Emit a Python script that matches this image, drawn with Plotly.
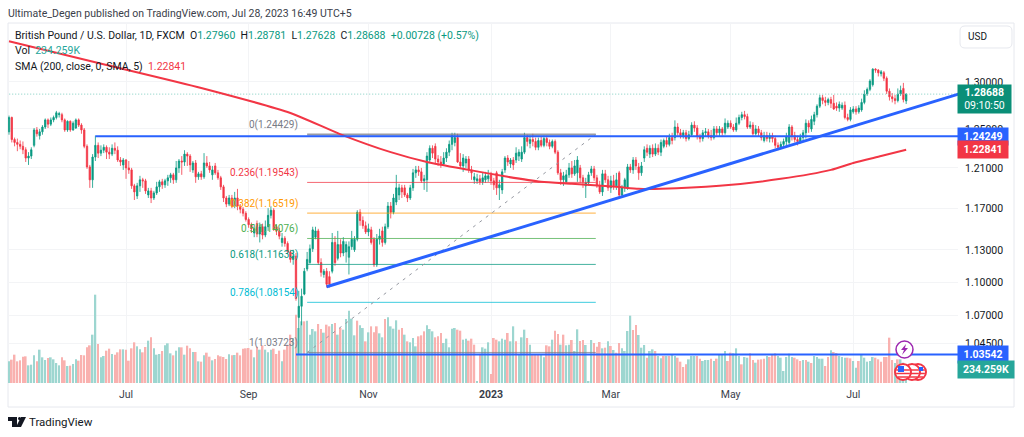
import math
import plotly.graph_objects as go

# daily GBP/USD bars
opens = [
    1.247,1.262,1.239,1.236,1.234,1.232,1.2285,1.220,1.222,1.233,
    1.249,1.243,1.247,1.252,1.2595,1.255,1.2595,1.262,1.265,1.265,
    1.2595,1.249,1.258,1.249,1.251,1.2595,1.254,1.249,1.232,1.211,
    1.198,1.221,1.233,1.225,1.228,1.231,1.226,1.224,1.230,1.228,
    1.218,1.213,1.218,1.210,1.208,1.192,1.182,1.192,1.198,1.197,
    1.183,1.187,1.180,1.185,1.191,1.196,1.193,1.197,1.200,1.203,
    1.198,1.210,1.217,1.216,1.224,1.222,1.208,1.215,1.201,1.204,
    1.201,1.215,1.212,1.203,1.212,1.205,1.200,1.191,1.180,1.174,
    1.180,1.172,1.180,1.171,1.169,1.165,1.159,1.154,1.146,1.155,
    1.145,1.152,1.144,1.152,1.163,1.168,1.152,1.148,1.137,1.141,
    1.136,1.128,1.121,1.124,1.068,1.078,1.089,1.112,1.118,1.131,
    1.142,1.148,1.118,1.107,1.110,1.105,1.110,1.137,1.122,1.135,
    1.127,1.128,1.123,1.133,1.130,1.140,1.166,1.158,1.153,1.147,
    1.149,1.140,1.116,1.140,1.148,1.137,1.152,1.172,1.166,1.176,
    1.183,1.190,1.190,1.183,1.180,1.190,1.205,1.208,1.206,1.197,
    1.198,1.218,1.230,1.232,1.219,1.216,1.214,1.220,1.226,1.234,
    1.236,1.241,1.216,1.212,1.215,1.219,1.208,1.198,1.197,1.199,
    1.196,1.198,1.199,1.203,1.197,1.205,1.190,1.188,1.208,1.220,
    1.214,1.218,1.218,1.222,1.219,1.226,1.241,1.235,1.239,1.237,
    1.231,1.238,1.233,1.240,1.236,1.232,1.237,1.226,1.205,1.198,
    1.196,1.203,1.210,1.204,1.205,1.210,1.200,1.192,1.195,1.205,
    1.209,1.200,1.192,1.186,1.204,1.198,1.190,1.197,1.192,1.205,
    1.183,1.190,1.190,1.211,1.208,1.218,1.211,1.205,1.220,1.230,
    1.224,1.230,1.224,1.230,1.226,1.232,1.238,1.234,1.241,1.241,
    1.252,1.246,1.243,1.246,1.240,1.244,1.254,1.251,1.242,1.240,
    1.246,1.247,1.243,1.241,1.250,1.246,1.250,1.246,1.252,1.256,
    1.252,1.249,1.256,1.262,1.265,1.263,1.252,1.254,1.245,1.250,
    1.246,1.238,1.243,1.240,1.243,1.240,1.233,1.231,1.234,1.237,
    1.236,1.252,1.243,1.239,1.237,1.241,1.246,1.256,1.250,1.258,
    1.265,1.274,1.283,1.280,1.278,1.281,1.277,1.274,1.272,1.272,
    1.275,1.262,1.260,1.268,1.271,1.268,1.270,1.278,1.287,1.292,
    1.297,1.314,1.313,1.309,1.310,1.304,1.290,1.284,1.282,1.280,
    1.287,1.293,1.2796,
]
highs = [
    1.264,1.263,1.241,1.240,1.238,1.237,1.231,1.226,1.231,1.251,
    1.252,1.250,1.254,1.261,1.261,1.262,1.264,1.269,1.268,1.267,
    1.261,1.259,1.259,1.258,1.261,1.261,1.256,1.251,1.234,1.213,
    1.224,1.243,1.236,1.233,1.234,1.233,1.231,1.234,1.236,1.232,
    1.221,1.220,1.219,1.217,1.210,1.194,1.195,1.202,1.200,1.199,
    1.190,1.190,1.187,1.196,1.198,1.199,1.199,1.203,1.205,1.205,
    1.217,1.219,1.222,1.228,1.226,1.224,1.217,1.218,1.206,1.207,
    1.225,1.222,1.216,1.212,1.215,1.208,1.202,1.193,1.182,1.183,
    1.183,1.186,1.189,1.174,1.171,1.167,1.161,1.156,1.154,1.158,
    1.156,1.155,1.158,1.170,1.172,1.170,1.154,1.151,1.146,1.143,
    1.138,1.130,1.130,1.127,1.092,1.094,1.113,1.128,1.135,1.152,
    1.152,1.150,1.122,1.112,1.113,1.110,1.146,1.143,1.148,1.140,
    1.142,1.138,1.138,1.148,1.143,1.168,1.169,1.162,1.157,1.155,
    1.152,1.142,1.145,1.150,1.152,1.155,1.176,1.176,1.184,1.203,
    1.194,1.193,1.193,1.185,1.193,1.209,1.212,1.212,1.210,1.203,
    1.226,1.233,1.233,1.235,1.223,1.222,1.226,1.230,1.238,1.246,
    1.246,1.245,1.225,1.224,1.222,1.222,1.212,1.205,1.204,1.203,
    1.205,1.206,1.208,1.206,1.200,1.207,1.198,1.209,1.222,1.223,
    1.220,1.221,1.231,1.229,1.232,1.246,1.244,1.243,1.245,1.241,
    1.241,1.242,1.243,1.243,1.239,1.239,1.239,1.228,1.209,1.206,
    1.208,1.215,1.217,1.218,1.222,1.213,1.203,1.200,1.206,1.212,
    1.212,1.203,1.197,1.208,1.208,1.202,1.202,1.203,1.205,1.207,
    1.193,1.200,1.214,1.214,1.221,1.221,1.215,1.216,1.232,1.234,
    1.233,1.234,1.235,1.234,1.239,1.240,1.242,1.245,1.246,1.259,
    1.256,1.250,1.249,1.249,1.248,1.257,1.258,1.254,1.245,1.249,
    1.251,1.250,1.249,1.253,1.253,1.253,1.252,1.261,1.259,1.259,
    1.255,1.262,1.265,1.268,1.269,1.266,1.258,1.257,1.254,1.253,
    1.249,1.247,1.247,1.246,1.246,1.243,1.236,1.237,1.240,1.246,
    1.255,1.254,1.247,1.243,1.245,1.249,1.260,1.259,1.264,1.268,
    1.276,1.286,1.286,1.284,1.283,1.284,1.286,1.278,1.279,1.278,
    1.279,1.266,1.273,1.274,1.274,1.275,1.282,1.291,1.294,1.303,
    1.315,1.315,1.314,1.313,1.312,1.306,1.293,1.288,1.286,1.293,
    1.296,1.299,1.28781,
]
lows = [
    1.244,1.236,1.232,1.227,1.229,1.224,1.216,1.213,1.219,1.231,
    1.242,1.239,1.244,1.250,1.251,1.253,1.257,1.260,1.262,1.257,
    1.247,1.247,1.247,1.248,1.250,1.252,1.245,1.230,1.209,1.190,
    1.190,1.217,1.220,1.222,1.225,1.219,1.219,1.222,1.224,1.216,
    1.212,1.208,1.199,1.204,1.189,1.178,1.179,1.186,1.190,1.184,
    1.180,1.175,1.178,1.183,1.186,1.189,1.190,1.192,1.195,1.194,
    1.195,1.205,1.203,1.212,1.212,1.206,1.205,1.195,1.198,1.198,
    1.199,1.210,1.205,1.198,1.203,1.198,1.188,1.176,1.171,1.172,
    1.170,1.170,1.168,1.165,1.162,1.157,1.151,1.146,1.142,1.142,
    1.137,1.140,1.142,1.148,1.160,1.148,1.144,1.140,1.133,1.133,
    1.126,1.118,1.116,1.083,1.036,1.061,1.088,1.110,1.117,1.128,
    1.140,1.116,1.105,1.104,1.095,1.095,1.108,1.115,1.120,1.123,
    1.124,1.118,1.107,1.130,1.128,1.138,1.153,1.150,1.145,1.143,
    1.135,1.114,1.114,1.135,1.133,1.135,1.150,1.160,1.164,1.173,
    1.178,1.180,1.181,1.176,1.178,1.187,1.200,1.202,1.195,1.188,
    1.186,1.215,1.220,1.214,1.212,1.210,1.212,1.216,1.222,1.228,
    1.232,1.215,1.210,1.206,1.210,1.205,1.198,1.194,1.194,1.193,
    1.193,1.195,1.196,1.193,1.188,1.183,1.178,1.184,1.205,1.212,
    1.210,1.208,1.215,1.217,1.216,1.224,1.232,1.230,1.232,1.228,
    1.228,1.231,1.231,1.232,1.229,1.230,1.224,1.203,1.193,1.192,
    1.194,1.200,1.200,1.202,1.196,1.195,1.190,1.180,1.192,1.202,
    1.197,1.190,1.184,1.182,1.195,1.187,1.185,1.188,1.188,1.181,
    1.180,1.186,1.188,1.205,1.204,1.208,1.198,1.202,1.216,1.222,
    1.220,1.221,1.222,1.223,1.222,1.230,1.231,1.232,1.234,1.238,
    1.243,1.240,1.240,1.237,1.238,1.242,1.247,1.239,1.236,1.237,
    1.242,1.240,1.238,1.239,1.243,1.242,1.243,1.244,1.250,1.250,
    1.247,1.247,1.254,1.259,1.260,1.250,1.250,1.243,1.243,1.242,
    1.238,1.236,1.237,1.236,1.236,1.230,1.228,1.229,1.232,1.233,
    1.234,1.238,1.236,1.233,1.235,1.238,1.240,1.246,1.247,1.254,
    1.262,1.272,1.276,1.274,1.275,1.272,1.270,1.269,1.268,1.270,
    1.260,1.258,1.258,1.266,1.265,1.266,1.268,1.276,1.285,1.290,
    1.295,1.310,1.306,1.306,1.301,1.287,1.280,1.278,1.276,1.278,
    1.285,1.278,1.27628,
]
closes = [
    1.262,1.239,1.236,1.234,1.232,1.2285,1.220,1.222,1.2285,1.249,
    1.245,1.247,1.252,1.2595,1.255,1.2595,1.262,1.267,1.266,1.2595,
    1.249,1.258,1.249,1.256,1.2595,1.254,1.249,1.232,1.211,1.198,
    1.221,1.233,1.225,1.228,1.231,1.226,1.224,1.230,1.228,1.218,
    1.216,1.218,1.210,1.208,1.192,1.186,1.192,1.198,1.197,1.187,
    1.187,1.180,1.185,1.191,1.196,1.193,1.197,1.200,1.203,1.198,
    1.210,1.217,1.216,1.224,1.222,1.213,1.215,1.201,1.204,1.201,
    1.215,1.212,1.208,1.208,1.205,1.200,1.191,1.180,1.174,1.180,
    1.172,1.180,1.172,1.169,1.165,1.159,1.154,1.150,1.150,1.145,
    1.152,1.144,1.152,1.163,1.168,1.150,1.148,1.143,1.141,1.136,
    1.128,1.121,1.124,1.085,1.078,1.087,1.110,1.121,1.131,1.149,
    1.148,1.118,1.109,1.110,1.098,1.098,1.137,1.118,1.135,1.127,
    1.138,1.135,1.133,1.140,1.140,1.166,1.158,1.153,1.147,1.150,
    1.137,1.116,1.140,1.143,1.137,1.152,1.172,1.166,1.180,1.190,
    1.190,1.186,1.183,1.180,1.190,1.205,1.208,1.206,1.197,1.199,
    1.222,1.230,1.225,1.219,1.216,1.214,1.220,1.226,1.234,1.243,
    1.241,1.216,1.212,1.220,1.219,1.208,1.205,1.201,1.199,1.196,
    1.200,1.202,1.202,1.197,1.193,1.190,1.193,1.206,1.220,1.216,
    1.218,1.213,1.225,1.226,1.226,1.241,1.237,1.239,1.237,1.231,
    1.238,1.233,1.240,1.236,1.232,1.237,1.226,1.205,1.198,1.202,
    1.203,1.210,1.204,1.212,1.218,1.200,1.196,1.195,1.203,1.209,
    1.200,1.192,1.186,1.204,1.198,1.190,1.197,1.192,1.198,1.183,
    1.190,1.198,1.211,1.208,1.218,1.212,1.205,1.212,1.2285,1.226,
    1.230,1.224,1.230,1.226,1.236,1.238,1.234,1.241,1.238,1.252,
    1.246,1.243,1.246,1.240,1.244,1.254,1.251,1.242,1.240,1.246,
    1.247,1.243,1.241,1.250,1.246,1.250,1.246,1.256,1.256,1.252,
    1.249,1.256,1.262,1.265,1.263,1.252,1.254,1.245,1.250,1.246,
    1.241,1.243,1.240,1.243,1.240,1.233,1.231,1.234,1.237,1.242,
    1.252,1.243,1.239,1.237,1.241,1.246,1.256,1.252,1.260,1.265,
    1.274,1.283,1.280,1.278,1.281,1.277,1.271,1.272,1.276,1.275,
    1.262,1.260,1.270,1.271,1.268,1.272,1.278,1.287,1.292,1.301,
    1.314,1.313,1.310,1.311,1.304,1.290,1.284,1.282,1.280,1.287,
    1.291,1.281,1.28688,
]
# volume in thousands, negative = red bar
volume = [
    455,-490,-595,-455,-476,-553,-560,371,385,581,
    -455,700,539,483,-525,539,497,420,371,-539,
    -476,357,-364,399,497,-469,-588,-581,-749,-791,
    1015,1855,-819,539,567,-679,-721,609,-595,-644,
    -707,707,-700,-469,-728,-854,770,707,-644,-756,
    889,-959,728,595,609,-672,791,833,623,-581,
    679,749,-749,595,-784,-728,651,-651,455,-448,
    581,-637,-553,476,-504,-581,-560,-546,-504,602,
    -581,588,-637,-581,-721,-728,-735,-700,539,-763,
    700,-791,700,644,700,-721,-609,-679,455,-700,
    -805,-1015,945,-1435,1155,
    1295,-1295,1309,1015,1134,1085,-1239,-1134,1057,-1225,
    -1190,1239,-1260,1015,-1155,1120,1344,1519,1351,1001,
    -1309,1211,1155,-875,1064,-1190,-1064,-1190,1043,959,
    -1344,1379,1190,1141,1316,-1120,-1155,1015,-875,854,
    945,770,-980,-1001,-1085,1211,1134,1085,-959,-980,
    -1050,840,931,749,1141,1155,-1120,-1099,910,931,
    -889,-931,-805,35,-616,749,721,854,-189,-945,
    -910,875,931,910,-1050,875,1190,-875,609,959,
    1120,-945,805,-609,-609,-609,609,539,-791,-770,
    910,-1099,-1029,805,-1015,791,805,
    -903,672,1127,-882,-903,798,35,903,-840,-763,
    -861,728,-742,875,-777,693,-637,-840,728,672,
    1092,1414,-1113,-1218,1008,742,798,-532,672,707,
    -672,567,518,-567,567,-567,602,567,-532,-448,
    -336,-392,497,567,567,-567,-511,462,483,483,
    -511,462,-511,602,602,672,-462,-637,623,728,
    567,
    -392,546,532,-623,-483,427,-490,-497,-511,567,
    -546,-602,-623,567,532,252,546,616,546,-532,
    -497,-462,483,-483,448,-420,567,546,511,511,
    -357,-546,686,-651,-630,567,546,532,-532,-518,
    462,322,-462,602,532,448,462,546,-532,-497,
    -448,-546,-546,-952,-483,420,-497,497,427,234,
]
bars = list(range(len(closes)))

sma_bars = [0, 35, 69, 101, 119, 137, 150, 165, 179, 191, 202, 218, 226, 234, 255, 277, 295, 303, 313, 322]
sma_vals = [1.345, 1.3186, 1.2935, 1.2668, 1.2444, 1.226, 1.216, 1.208, 1.201, 1.196,
            1.194, 1.191, 1.189, 1.189, 1.192, 1.199, 1.208, 1.215, 1.222, 1.22841]

time_ticks = [42, 86, 129, 173, 216, 259, 303]
time_labels = ["Jul", "Sep", "Nov", "<b>2023</b>", "Mar", "May", "Jul"]
price_ticks = [1.30, 1.25, 1.21, 1.17, 1.13, 1.10, 1.07, 1.045]

fib_levels = ["0", "0.236", "0.382", "0.5", "0.618", "0.786", "1"]
fib_prices = [1.24429, 1.19543, 1.16519, 1.14076, 1.11633, 1.08154, 1.03723]
fib_colors = ["#787b86", "#f23645", "#ff9800", "#4caf50", "#089981", "#00bcd4", "#787b86"]
fib_start, fib_end = 107, 210.6

res_bars = [31, 341]
res_price = 1.24249
sup_bars = [103, 341]
sup_price = 1.03542
trend_bars = [114, 341]
trend_vals = [1.0957, 1.2871]
last_price = 1.28688
sma_last = 1.22841
vol_last = 234.259

FONT = "Roboto, sans-serif"
W, H = 1024, 437
L, R, T, B = 8, 958, 23, 383


def px(x):
    return (x - L) / (R - L)


def py(y):
    return (B - y) / (B - T)


def rect_path(points):
    return "M" + " L".join(f"{px(a):.5f},{py(b):.5f}" for a, b in points) + " Z"


fig = go.Figure()

fig.add_trace(go.Bar(
    x=bars, y=[abs(v) for v in volume], width=0.62, yaxis="y",
    marker=dict(color=["#9dd6d0" if v > 0 else "#f9b1af" for v in volume], line_width=0),
))

for lvl, p, c in zip(fib_levels, fib_prices, fib_colors):
    fig.add_trace(go.Scatter(x=[fib_start, fib_end], y=[p, p], yaxis="y2", mode="lines",
                             line=dict(color=c, width=2 if lvl == "0" else 1), opacity=0.75))
fig.add_trace(go.Scatter(x=[fib_start, fib_end], y=[fib_prices[-1], fib_prices[0]], yaxis="y2", mode="lines",
                         line=dict(color="#9598a1", width=1, dash="3px,5px")))
fig.add_trace(go.Scatter(x=[-1, 341], y=[last_price, last_price], yaxis="y2", mode="lines",
                         line=dict(color="#7fcdbf", width=1, dash="1px,2px")))

fig.add_trace(go.Candlestick(
    x=bars, open=opens, high=highs, low=lows, close=closes, yaxis="y2", whiskerwidth=0,
    increasing=dict(line=dict(color="#089981", width=0.8), fillcolor="#089981"),
    decreasing=dict(line=dict(color="#f23645", width=0.8), fillcolor="#f23645"),
))
fig.add_trace(go.Scatter(x=sma_bars, y=sma_vals, yaxis="y2", mode="lines",
                         line=dict(color="#f23645", width=2, shape="spline", smoothing=0.6)))

fig.add_trace(go.Scatter(x=res_bars, y=[res_price, res_price], yaxis="y2", mode="lines",
                         line=dict(color="#2962ff", width=2)))
fig.add_trace(go.Scatter(x=sup_bars, y=[sup_price, sup_price], yaxis="y2", mode="lines",
                         line=dict(color="#2962ff", width=2)))
fig.add_trace(go.Scatter(x=trend_bars, y=trend_vals, yaxis="y2", mode="lines",
                         line=dict(color="#2962ff", width=3)))

notes = []


def text(x, y, s, size=10.5, color="#131722", anchor="left", **kw):
    notes.append(dict(xref="paper", yref="paper", x=px(x), y=py(y), text=s, showarrow=False,
                      xanchor=anchor, yanchor="middle", font=dict(family=FONT, size=size, color=color), **kw))


def val(s, c="#089981"):
    return f'<span style="color:{c}">{s}</span>'


text(6, 13, "Ultimate_Degen published on TradingView.com, Jul 28, 2023 16:49 UTC+5", color="#3a3e4a")
text(13, 36, "British Pound / U.S. Dollar, 1D, FXCM  O" + val("1.27960") + "  H" + val("1.28781")
     + "  L" + val("1.27628") + "  C" + val("1.28688") + "  " + val("+0.00728 (+0.57%)"))
text(13, 51, "Vol  " + val("234.259K", "#26a69a"))
text(13, 66, "SMA (200, close, 0, SMA, 5)  " + val("1.22841", "#f23645"))
text(27, 422, "TradingView", size=11.5, color="#131722")
text(977, 37, "USD", size=10, anchor="center")

# fib labels sit left of the levels, just above each price
for lvl, p, c in zip(fib_levels, fib_prices, fib_colors):
    notes.append(dict(xref="x", yref="y2", x=104.6, y=math.log10(p), yshift=9, text=f"{lvl}({p:.5f})", showarrow=False,
                      xanchor="right", yanchor="middle", font=dict(family=FONT, size=10, color=c)))


def tag(price, s, bg, w=48, h=15, shift=0, yref="y2", size=10.5):
    notes.append(dict(xref="paper", yref=yref, x=px(957), y=math.log10(price) if yref == "y2" else price,
                      yshift=shift, text=s, showarrow=False, xanchor="left", yanchor="middle", width=w, height=h,
                      align="center", bgcolor=bg, font=dict(family=FONT, size=size, color="white")))


tag(last_price, f"<b>{last_price:.5f}</b><br>09:10:50", "#0a8f78", w=51, h=26, shift=-5)
tag(res_price, f"<b>{res_price:.5f}</b>", "#2962ff")
tag(sma_last, f"<b>{sma_last:.5f}</b>", "#f23645")
tag(sup_price, f"<b>{sup_price:.5f}</b>", "#2962ff")
tag(vol_last, f"<b>{vol_last}K</b>", "#26a69a", w=54, yref="y", shift=2)


def round_box(x0, y0, x1, y1, r):
    a, b, c, d = px(x0), py(y0), px(x1), py(y1)
    rx, ry = px(x0 + r) - a, py(y0) - py(y0 + r)
    return (f"M{a + rx:.5f},{b:.5f} L{c - rx:.5f},{b:.5f} Q{c:.5f},{b:.5f} {c:.5f},{b - ry:.5f} "
            f"L{c:.5f},{d + ry:.5f} Q{c:.5f},{d:.5f} {c - rx:.5f},{d:.5f} "
            f"L{a + rx:.5f},{d:.5f} Q{a:.5f},{d:.5f} {a:.5f},{d + ry:.5f} "
            f"L{a:.5f},{b - ry:.5f} Q{a:.5f},{b:.5f} {a + rx:.5f},{b:.5f} Z")


shapes = [
    dict(type="rect", xref="paper", yref="paper", x0=px(8), x1=px(1014), y0=py(23), y1=py(407),
         line=dict(color="#e6e8ee", width=1), layer="below"),
    dict(type="path", xref="paper", yref="paper", path=round_box(960, 26, 1012, 48, 5),
         line=dict(color="#e6e8ee", width=1)),
    # logo
    dict(type="path", xref="paper", yref="paper", fillcolor="#131722", line_width=0,
         path=rect_path([(8, 417), (17, 417), (17, 427), (12, 427), (12, 421), (8, 421)])),
    dict(type="circle", xref="paper", yref="paper", fillcolor="#131722", line_width=0,
         x0=px(18), x1=px(21), y0=py(417), y1=py(420)),
    dict(type="path", xref="paper", yref="paper", fillcolor="#131722", line_width=0,
         path=rect_path([(21, 417), (26, 417), (21, 427), (16, 427)])),
]
# event badges
for cx in [918, 912, 903]:
    shapes.append(dict(type="circle", xref="paper", yref="paper", fillcolor="white",
                       line=dict(color="#f23645", width=2),
                       x0=px(cx - 8), x1=px(cx + 8), y0=py(364), y1=py(380)))
    for off in [-2, 1.5, 5]:
        half = math.sqrt(64 - off * off) - 1
        shapes.append(dict(type="line", xref="paper", yref="paper", x0=px(cx - half), x1=px(cx + half),
                           y0=py(372 + off), y1=py(372 + off), line=dict(color="#f23645", width=1.5)))
shapes.append(dict(type="rect", xref="paper", yref="paper", x0=px(898), x1=px(904), y0=py(366), y1=py(372),
                   fillcolor="#2962ff", line_width=0))
shapes.append(dict(type="rect", xref="paper", yref="paper", x0=px(919), x1=px(923), y0=py(367), y1=py(371),
                   fillcolor="#2962ff", line_width=0))
shapes.append(dict(type="circle", xref="paper", yref="paper", fillcolor="white",
                   line=dict(color="#9c27b0", width=1.5), x0=px(896), x1=px(913), y0=py(341), y1=py(358)))
shapes.append(dict(type="path", xref="paper", yref="paper", fillcolor="#9c27b0", line_width=0,
                   path=rect_path([(906, 344), (901, 350), (904, 350), (902, 355), (908, 348), (905, 348)])))

fig.update_layout(
    width=W, height=H, margin=dict(l=L, r=W - R, t=T, b=H - B),
    paper_bgcolor="white", plot_bgcolor="white", showlegend=False, barmode="overlay",
    annotations=notes, shapes=shapes,
    font=dict(family=FONT, size=10.5, color="#131722"),
    xaxis=dict(range=[-0.36, 340.6], rangeslider=dict(visible=False), tickmode="array",
               tickvals=time_ticks, ticktext=time_labels, showgrid=True, gridcolor="#f3f4f6",
               zeroline=False, showline=False, ticks="", ticklabelstandoff=3,
               tickfont=dict(size=10.5, color="#3a3e4a")),
    yaxis=dict(range=[0, 7560], visible=False, fixedrange=True),
    yaxis2=dict(type="log", overlaying="y", side="right",
                range=[math.log10(1.0111), math.log10(1.3656)],
                tickmode="array", tickvals=price_ticks, ticktext=[f"{t:.5f}" for t in price_ticks],
                showgrid=True, gridcolor="#f3f4f6", zeroline=False, showline=False, ticks="",
                ticklabelstandoff=6, tickfont=dict(size=10.5, color="#131722")),
)

fig.write_html("out.html", config=dict(displayModeBar=False), post_script="document.body.style.margin='0';")
